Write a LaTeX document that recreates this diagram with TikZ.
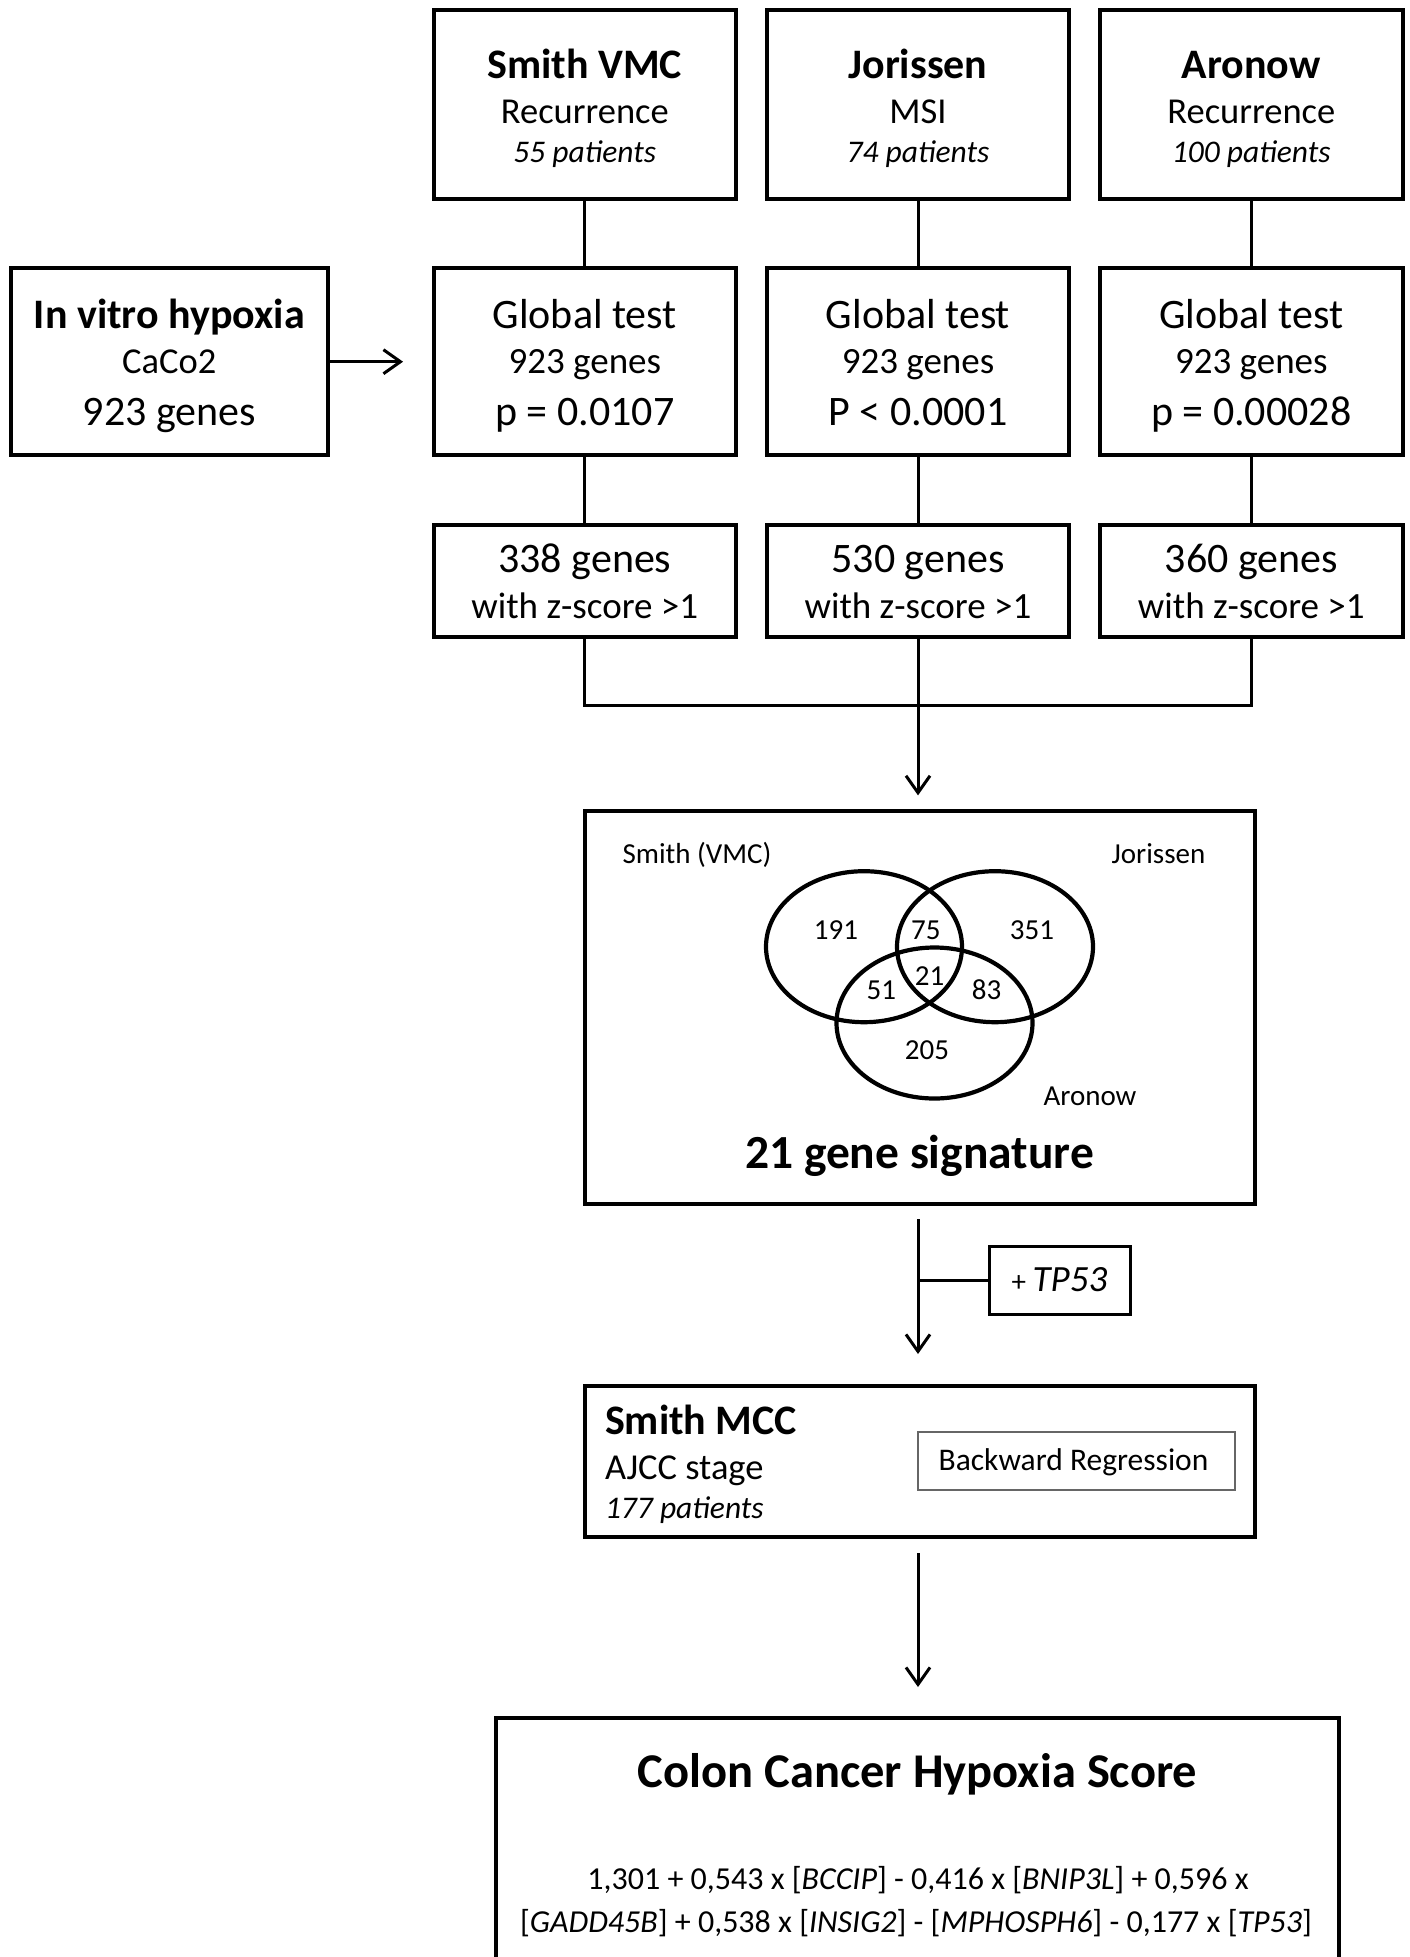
\documentclass[tikz,border=0pt]{standalone}
\usepackage{fontspec}
\setmainfont{Carlito}
\usetikzlibrary{arrows.meta}
\newcommand\fsz[1]{\fontsize{#1pt}{#1pt}\selectfont}
\begin{document}
\begin{tikzpicture}[x=1pt,y=-1pt,
  box/.style={draw, line width=4pt, inner sep=0pt, outer sep=0pt},
  conn/.style={line width=3pt},
  arr/.style={line width=3pt, -{Straight Barb[length=17pt,width=24pt]}},
  txt/.style={anchor=base, inner sep=0pt, outer sep=0pt},
  hd/.style={txt, font=\fsz{42}\bfseries},
  sub/.style={txt, font=\fsz{36.5}},
  pat/.style={txt, font=\fsz{31.5}\itshape},
  big/.style={txt, font=\fsz{42}},
  mid/.style={txt, font=\fsz{37}},
  small/.style={txt, font=\fsz{29}},
  vn/.style={line width=4.2pt}
]
\useasboundingbox (0,0) rectangle (1409,1957);
\clip (0,0) rectangle (1409,1957);

% top row
\node[box, minimum width=301.5pt, minimum height=188.5pt] (smith) at (584.8,104.7) {};
\node[box, minimum width=301.7pt, minimum height=188.5pt] (jor) at (918,104.7) {};
\node[box, minimum width=303pt, minimum height=188.5pt] (aro) at (1251.3,104.7) {};
\node[hd] (h1) at (584.8,78) {Smith VMC};
\node[sub] (s1) at (584.8,123) {Recurrence};
\node[pat] (p1) at (584.8,162.7) {55 patients};
\node[hd] (h2) at (918,78) {Jorissen};
\node[sub] (s2) at (918,123) {MSI};
\node[pat] (p2) at (918,162.7) {74 patients};
\node[hd] (h3) at (1251.3,78) {Aronow};
\node[sub] (s3) at (1251.3,123) {Recurrence};
\node[pat] (p3) at (1251.3,162.7) {100 patients};

% global test row
\node[box, minimum width=317.5pt, minimum height=187.5pt] (invitro) at (169.3,361.7) {};
\node[hd] (iv1) at (169.3,328.3) {In vitro hypoxia};
\node[sub] (iv2) at (169.3,373.3) {CaCo2};
\node[big] (iv3) at (169.3,425) {923 genes};

\node[box, minimum width=301.5pt, minimum height=187.5pt] (gsmith) at (584.8,361.7) {};
\node[box, minimum width=301.7pt, minimum height=187.5pt] (gjor) at (918,361.7) {};
\node[box, minimum width=303pt, minimum height=187.5pt] (garo) at (1251.3,361.7) {};
\node[big] (g1a) at (584.8,328.3) {Global test};
\node[mid] (g1b) at (584.8,373.3) {923 genes};
\node[big] (g1c) at (584.8,425) {p = 0.0107};
\node[big] (g2a) at (918,328.3) {Global test};
\node[mid] (g2b) at (918,373.3) {923 genes};
\node[big] (g2c) at (918,425) {P < 0.0001};
\node[big] (g3a) at (1251.3,328.3) {Global test};
\node[mid] (g3b) at (1251.3,373.3) {923 genes};
\node[big] (g3c) at (1251.3,425) {p = 0.00028};

% gene rows
\node[box, minimum width=301.5pt, minimum height=112.5pt] (zsmith) at (584.8,580.8) {};
\node[box, minimum width=301.7pt, minimum height=112.5pt] (zjor) at (918,580.8) {};
\node[box, minimum width=303pt, minimum height=112.5pt] (zaro) at (1251.3,580.8) {};
\node[big] (z1a) at (584.8,572.7) {338 genes};
\node[mid] (z1b) at (584.8,618.3) {with z-score >1};
\node[big] (z2a) at (918,572.7) {530 genes};
\node[mid] (z2b) at (918,618.3) {with z-score >1};
\node[big] (z3a) at (1251.3,572.7) {360 genes};
\node[mid] (z3b) at (1251.3,618.3) {with z-score >1};

% connectors of the top part
\draw[conn] (smith) -- (gsmith);
\draw[conn] (jor) -- (gjor);
\draw[conn] (aro) -- (garo);
\draw[conn] (gsmith) -- (zsmith);
\draw[conn] (gjor) -- (zjor);
\draw[conn] (garo) -- (zaro);
\draw[arr, shorten >=31pt] (invitro.east) -- (gsmith.west);

\coordinate (bl) at (584.8,705);
\coordinate (bm) at (918,705);
\coordinate (br) at (1251.3,705);
\draw[conn] (zsmith) -- (bl) -- (br) -- (zaro);
\draw[conn] (zjor) -- (bm);

% Venn box
\node[box, minimum width=669.4pt, minimum height=392.7pt] (venn) at (920,1007.7) {};
\draw[arr, shorten >=16pt] (bm) -- (bm |- venn.north);
\draw[vn] (864,946.7) ellipse [x radius=98, y radius=75.5];
\draw[vn] (995,946.7) ellipse [x radius=98, y radius=75.5];
\draw[vn] (934.5,1023) ellipse [x radius=98, y radius=75.5];
\node[small] (lsm) at (697,863.3) {Smith (VMC)};
\node[small] (ljo) at (1158.5,863.3) {Jorissen};
\node[small] (lar) at (1090,1105) {Aronow};
\node[small] (n191) at (836,939) {191};
\node[small] (n75) at (925.8,939) {75};
\node[small] (n351) at (1032,939) {351};
\node[small] (n51) at (881.3,999.3) {51};
\node[small] (n21) at (929.5,985) {21};
\node[small] (n83) at (986.5,999.3) {83};
\node[small] (n205) at (927,1059.3) {205};
\node[txt, font=\fsz{47.5}\bfseries] (sig) at (919.5,1168) {21 gene signature};

% TP53
\node[box, line width=3pt, minimum width=141pt, minimum height=68pt] (tp) at (1059.5,1280) {};
\node[txt] (tpt) at (1059.5,1291.8) {\fsz{29}+ \fsz{37}\itshape TP53};

% Smith MCC
\node[box, minimum width=670pt, minimum height=151pt] (mcc) at (920,1461.5) {};
\draw[arr, shorten <=15pt, shorten >=32pt] (venn.south -| bm) -- (mcc.north -| bm);
\draw[conn] (tp.west) -- (tp.west -| bm);
\node[hd, anchor=base west] (m1) at (605,1434.3) {Smith MCC};
\node[sub, anchor=base west] (m2) at (605,1479) {AJCC stage};
\node[pat, anchor=base west] (m3) at (605,1518.8) {177 patients};
\node[draw=black!60, line width=1.3pt, inner sep=0pt, minimum width=317pt, minimum height=58pt] (breg) at (1076.5,1461) {};
\node[txt, font=\fsz{31.5}] (bregt) at (1073.5,1470.5) {Backward Regression};

% final box
\node[box, minimum width=843pt, minimum height=262pt] (final) at (917.5,1849) {};
\draw[arr, shorten <=16pt, shorten >=31pt] (mcc.south -| bm) -- (final.north -| bm);
\node[txt, font=\fsz{48.5}\bfseries] (ft) at (917.5,1787) {Colon Cancer Hypoxia Score};
\node[txt, font=\fsz{32}] (f1) at (918,1889) {1,301 + 0,543 x [\textit{BCCIP}] - 0,416 x [\textit{BNIP3L}] + 0,596 x};
\node[txt, font=\fsz{32}] (f2) at (916,1932) {[\textit{GADD45B}] + 0,538 x [\textit{INSIG2}] - [\textit{MPHOSPH6}] - 0,177 x [\textit{TP53}]};
\end{tikzpicture}
\end{document}
